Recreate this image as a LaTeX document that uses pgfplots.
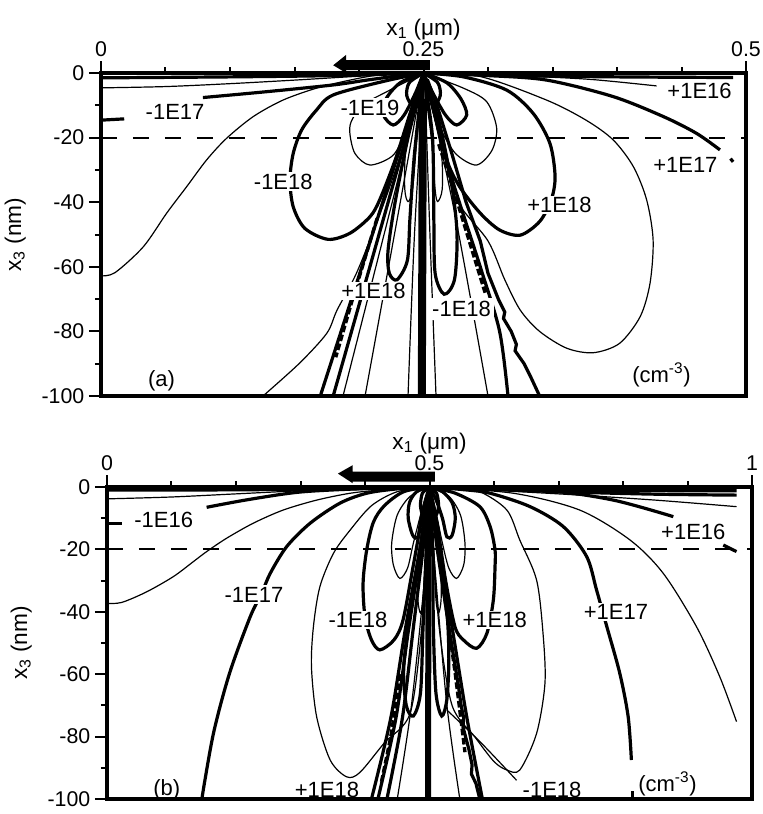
\documentclass[border=0pt]{standalone}
\usepackage{pgfplots}
\pgfplotsset{compat=1.18}
\usepackage{fontspec}
\setmainfont{Liberation Sans}
\newcommand\fs{\fontsize{16}{18}\selectfont}
\newcommand\fa{\fontsize{17}{19}\selectfont}
\newcommand\fl{\fontsize{16.5}{18}\selectfont}
\tikzset{lab/.style={font=\fl, fill=white, inner sep=1.2pt}}
\pgfplotsset{
 thn/.style={black, line width=0.9pt, smooth, tension=0.5, mark=none},
 thk/.style={black, line width=2.4pt, smooth, tension=0.5, mark=none},
 panel/.style={
  anchor=north west, scale only axis, width=483.75pt,
  ymin=-100, ymax=0, axis on top,
  ytick={-100,-80,-60,-40,-20,0}, yticklabels={-100,-80,-60,-40,-20,0},
  minor ytick={-90,-70,-50,-30,-10},
  xtick pos=right, xticklabel pos=right, ytick pos=left,
  tick align=outside, major tick length=9pt, minor tick length=4.5pt,
  tick style={black, line width=1.5pt},
  axis line style={line width=2.5pt},
  ticklabel style={font=\fs}, label style={font=\fa},
  xlabel={x\textsubscript{1} (μm)}, ylabel={x\textsubscript{3} (nm)},
  xlabel style={yshift=-6pt}, ylabel style={yshift=5pt},
  clip mode=individual,
 }
}
\begin{document}
\begin{tikzpicture}
\useasboundingbox (-75.75pt,54.75pt) rectangle (496.5pt,-555.75pt);
% ---------------- panel (a)
\begin{axis}[panel, at={(0pt,0pt)}, height=242.25pt,
  xmin=0, xmax=0.5, xtick={0,0.25,0.5}, xticklabels={0,0.25,0.5},
  minor xtick={0.05,0.1,0.15,0.2,0.3,0.35,0.4,0.45}]
\addplot[black, line width=1.5pt, dash pattern=on 12pt off 12pt] coordinates {(0,-20) (0.5,-20)};
% top lines
\addplot[thk] coordinates {(0,-1.5) (0.1,-1.2) (0.18,-0.8) (0.25,0)};
\addplot[thk] coordinates {(0.25,0) (0.32,-0.8) (0.4,-1.2) (0.49,-1.4)};
\addplot[thn] coordinates {(0,-4.6) (0.05,-4.2) (0.1,-3.3) (0.15,-2.2) (0.2,-1) (0.25,0)};
% -1E17
\addplot[thk] coordinates {(0,-14.6) (0.018,-14.2)};
\addplot[thk] coordinates {(0.079,-7.6) (0.128,-5.8) (0.18,-3.7) (0.206,-2.2) (0.23,-0.9) (0.25,0)};
% long thin left
\addplot[thn] coordinates {(0,-62.8) (0.0109,-61.8) (0.0328,-53.8) (0.0509,-43.4) (0.0664,-35.2) (0.0819,-26.9) (0.0974,-20.2) (0.118,-13.5) (0.141,-8.4) (0.167,-4.7) (0.193,-2.2) (0.216,-0.6) (0.25,0)};
% -1E18 loop
\addplot[thk] coordinates {(0.25,0) (0.22,-2.5) (0.18,-6.8) (0.167,-11.5) (0.1556,-17.6) (0.149,-24.9) (0.1465,-33.1) (0.149,-41.4) (0.158,-48.1) (0.176,-51.5) (0.193,-49.6) (0.2085,-44.5) (0.216,-39.3) (0.228,-27) (0.24,-12) (0.25,0)};
% -1E19 thin loop & mirror
\addplot[thn] coordinates {(0.25,0) (0.2215,-5.8) (0.203,-9.9) (0.194,-15) (0.193,-19) (0.197,-25) (0.2085,-28.5) (0.2266,-25.4) (0.237,-17.1) (0.245,-7) (0.25,0)};
\addplot[thn] coordinates {(0.25,0) (0.281,-4.7) (0.299,-8.9) (0.3067,-17) (0.303,-24) (0.291,-28.5) (0.275,-25) (0.263,-17) (0.255,-7) (0.25,0)};
% small thick loops
\addplot[thk] coordinates {(0.25,0) (0.232,-3) (0.221,-8) (0.219,-13) (0.2266,-16.1) (0.235,-13) (0.244,-6) (0.25,0)};
\addplot[thk] coordinates {(0.25,0) (0.268,-3) (0.279,-8) (0.2835,-13) (0.2757,-16.1) (0.267,-13) (0.257,-6) (0.25,0)};
\addplot[thk] coordinates {(0.25,0) (0.239,-3) (0.237,-7) (0.242,-10) (0.247,-5) (0.25,0)};
\addplot[thk] coordinates {(0.25,0) (0.261,-3) (0.263,-7) (0.258,-10) (0.253,-5) (0.25,0)};
% narrow thin loops
\addplot[thn] coordinates {(0.25,-1) (0.242,-10) (0.236,-25) (0.2355,-36) (0.238,-39.8) (0.2415,-36) (0.245,-20) (0.249,-5)};
\addplot[thn] coordinates {(0.251,-5) (0.256,-20) (0.259,-36) (0.261,-39.8) (0.2645,-36) (0.264,-25) (0.258,-10) (0.25,-1)};
% narrow thick loops
\addplot[thk] coordinates {(0.249,-3) (0.238,-20) (0.228,-40) (0.2225,-55) (0.2235,-62) (0.2295,-64) (0.2375,-58) (0.2395,-45) (0.243,-25) (0.249,-3)};
\addplot[thk] coordinates {(0.251,-3) (0.257,-20) (0.258,-45) (0.259,-62) (0.266,-68.5) (0.274,-64) (0.276,-50) (0.272,-35) (0.262,-15) (0.251,-3)};
% center band
\addplot[black, line width=2.5pt] coordinates {(0.25,0) (0.2495,-8)};
\addplot[black, line width=6pt] coordinates {(0.2495,-8) (0.2487,-100)};
% fan left
\addplot[thk] coordinates {(0.249,-2) (0.22,-38) (0.17,-100)};
\addplot[thk] coordinates {(0.249,-2) (0.224,-38) (0.18,-100)};
\addplot[thn] coordinates {(0.249,-2) (0.227,-38) (0.1876,-100)};
\addplot[thn] coordinates {(0.249,-2) (0.232,-40) (0.2047,-100)};
\addplot[thn] coordinates {(0.25,-2) (0.243,-50) (0.238,-100)};
\addplot[black, line width=2.5pt, dash pattern=on 5pt off 2pt] coordinates {(0.214,-45) (0.195,-70) (0.182,-88)};
\addplot[thn] coordinates {(0.1256,-100) (0.154,-89.8) (0.175,-80.6) (0.183,-73.4) (0.198,-62) (0.215,-45) (0.23,-28) (0.242,-12) (0.25,0)};
% fan right
\addplot[thn] coordinates {(0.251,-2) (0.255,-50) (0.2597,-100)};
\addplot[thn] coordinates {(0.252,-2) (0.275,-45) (0.30,-100)};
\addplot[thk] coordinates {(0.252,-2) (0.27,-30) (0.294,-60) (0.309,-80) (0.3155,-100)};
\addplot[black, line width=2.4pt] coordinates {(0.253,-2) (0.262,-12) (0.272,-25) (0.283,-40) (0.294,-52) (0.30,-62) (0.308,-70) (0.313,-74) (0.312,-76) (0.318,-80) (0.322,-84) (0.321,-86) (0.328,-90) (0.333,-94) (0.340,-100)};
\addplot[black, line width=3pt, dash pattern=on 5pt off 2pt] coordinates {(0.262,-22) (0.275,-38) (0.288,-55) (0.298,-68)};
% +1E17, +1E16
\addplot[thk] coordinates {(0.25,0) (0.30,-0.8) (0.3455,-2.2) (0.397,-7.3) (0.436,-13.5) (0.4617,-18.7) (0.4798,-23.8)};
\addplot[thk] coordinates {(0.488,-26.5) (0.49,-27.5)};
\addplot[thn] coordinates {(0.25,0) (0.33,-1) (0.38,-2) (0.4307,-4)};
% +1E18 loop
\addplot[thk] coordinates {(0.25,0) (0.281,-1.2) (0.3145,-5.3) (0.335,-12.5) (0.348,-21.8) (0.352,-32.1) (0.349,-39.3) (0.34,-46) (0.325,-50.2) (0.309,-48.6) (0.294,-43.4) (0.278,-35.2) (0.268,-26.9) (0.258,-12) (0.25,0)};
% big thin loop
\addplot[thn] coordinates {(0.25,0) (0.294,-1.1) (0.3455,-8.4) (0.376,-14.6) (0.397,-20.7) (0.4127,-29) (0.423,-39.3) (0.428,-51.7) (0.4256,-65.1) (0.418,-75.4) (0.402,-83.7) (0.3816,-86.6) (0.361,-85.2) (0.34,-80) (0.325,-73.4) (0.313,-64) (0.3,-52) (0.2757,-39.3) (0.264,-22) (0.255,-8) (0.25,0)};
% labels
\node[lab] at (axis cs:0.0574,-12) {-1E17};
\node[lab] at (axis cs:0.2085,-10.8) {-1E19};
\node[lab] at (axis cs:0.1413,-33.6) {-1E18};
\node[lab] at (axis cs:0.464,-5.7) {+1E16};
\node[lab] at (axis cs:0.453,-28.5) {+1E17};
\node[lab] at (axis cs:0.3554,-40.9) {+1E18};
\node[lab] at (axis cs:0.2112,-67.5) {+1E18};
\node[lab, inner sep=2.5pt] at (axis cs:0.2795,-73) {-1E18};
\node[font=\fl] at (axis cs:0.0469,-95.4) {(a)};
\node[lab] at (axis cs:0.4345,-93.5) {(cm\textsuperscript{-3})};
% arrow
\fill[black] (axis cs:0.18,2.4) -- (axis cs:0.19,5.6) -- (axis cs:0.19,4) -- (axis cs:0.255,4) -- (axis cs:0.255,0.9) -- (axis cs:0.19,0.9) -- (axis cs:0.19,0) -- cycle;
\end{axis}
% ---------------- panel (b)
\begin{axis}[panel, at={(4.5pt,-310.5pt)}, height=234pt,
  xmin=0, xmax=1, xtick={0,0.5,1}, xticklabels={0,0.5,1},
  minor xtick={0.1,0.2,0.3,0.4,0.6,0.7,0.8,0.9}]
\addplot[black, line width=1.5pt, dash pattern=on 12pt off 12pt] coordinates {(0,-20) (1,-20)};
% top lines
\addplot[thk] coordinates {(0,-1) (0.2,-0.9) (0.4,-0.5) (0.5,0)};
\addplot[thk] coordinates {(0.5,0) (0.7,-0.9) (0.9,-1.2) (0.976,-1.2)};
\addplot[thk] coordinates {(0.5,0) (0.7,-1.5) (0.85,-2.3) (0.976,-2.6)};
\addplot[thn] coordinates {(0,-3.8) (0.1,-3.2) (0.2,-2.2) (0.3,-1.2) (0.4,-0.5) (0.5,0)};
% -1E16
\addplot[thk] coordinates {(0,-11.6) (0.023,-11.6)};
\addplot[thk] coordinates {(0.1545,-6.5) (0.22,-4) (0.3,-1.6) (0.4,-0.5) (0.5,0)};
% long thin left
\addplot[thn] coordinates {(0,-37.3) (0.0228,-37) (0.0615,-33.6) (0.103,-28.7) (0.134,-23.9) (0.1545,-20.7) (0.1856,-16.4) (0.2268,-11.6) (0.273,-7.4) (0.325,-4.2) (0.377,-2) (0.423,-1) (0.5,0)};
% -1E17
\addplot[thk] coordinates {(0.147,-100) (0.165,-79) (0.19,-59.7) (0.222,-41.6) (0.24,-34) (0.253,-27.7) (0.2786,-19.1) (0.315,-11.6) (0.361,-5.2) (0.4026,-2) (0.45,-0.6) (0.5,0)};
% big thin loop left
\addplot[thn] coordinates {(0.5,0) (0.45,-1.5) (0.41,-6) (0.377,-13.8) (0.351,-21.3) (0.33,-32) (0.32,-44.8) (0.317,-57.6) (0.325,-73.6) (0.346,-87.5) (0.3716,-92.9) (0.392,-91.5) (0.43,-82) (0.47,-72.5) (0.488,-45) (0.497,-15) (0.5,0)};
% -1E18 thick loop
\addplot[thk] coordinates {(0.5,0) (0.46,-1.5) (0.43,-6) (0.413,-11.3) (0.4026,-20.2) (0.397,-30.9) (0.4,-41.6) (0.41,-49) (0.423,-52.2) (0.445,-49) (0.459,-42.6) (0.475,-25) (0.49,-8) (0.5,0)};
% thin loops near centre
\addplot[thn] coordinates {(0.5,0) (0.47,-3) (0.45,-9) (0.4414,-18) (0.444,-25) (0.454,-29.3) (0.466,-26) (0.475,-18) (0.49,-6) (0.5,0)};
\addplot[thn] coordinates {(0.5,0) (0.53,-3) (0.548,-9) (0.555,-18) (0.553,-25) (0.542,-29.3) (0.53,-26) (0.52,-18) (0.508,-6) (0.5,0)};
% thick small loops
\addplot[thk] coordinates {(0.5,0) (0.48,-1.5) (0.469,-5) (0.467,-10) (0.474,-15.5) (0.482,-16) (0.487,-10) (0.494,-4) (0.5,0)};
\addplot[thk] coordinates {(0.5,0) (0.52,-1.5) (0.535,-5) (0.54,-10) (0.535,-15.5) (0.527,-16) (0.52,-10) (0.51,-4) (0.5,0)};
\addplot[thk] coordinates {(0.5,0) (0.489,-2) (0.486,-6) (0.49,-9) (0.496,-5) (0.5,0)};
\addplot[thk] coordinates {(0.5,0) (0.511,-2) (0.514,-6) (0.51,-9) (0.504,-5) (0.5,0)};
% narrow thin loops
\addplot[thn] coordinates {(0.499,-1) (0.49,-10) (0.483,-25) (0.482,-36) (0.486,-40.4) (0.49,-36) (0.494,-20) (0.498,-5)};
\addplot[thn] coordinates {(0.502,-5) (0.506,-20) (0.51,-36) (0.514,-40.4) (0.518,-36) (0.517,-25) (0.51,-10) (0.501,-1)};
% narrow thick loops
\addplot[thk] coordinates {(0.499,-2) (0.485,-20) (0.47,-40) (0.46,-58) (0.464,-70) (0.475,-73.4) (0.486,-66) (0.49,-45) (0.495,-20) (0.499,-2)};
\addplot[thk] coordinates {(0.501,-2) (0.505,-20) (0.506,-45) (0.51,-66) (0.519,-73.4) (0.527,-68) (0.53,-55) (0.527,-40) (0.515,-20) (0.501,-2)};
% centre band
\addplot[black, line width=2.5pt] coordinates {(0.5,0) (0.4985,-10)};
\addplot[black, line width=4.5pt] coordinates {(0.4985,-10) (0.4977,-100)};
% fan left
\addplot[thk] coordinates {(0.499,-2) (0.485,-20) (0.463,-45) (0.44,-74) (0.41,-100)};
\addplot[thk] coordinates {(0.499,-2) (0.487,-20) (0.468,-45) (0.448,-74) (0.42,-100)};
\addplot[thk] coordinates {(0.5,-2) (0.49,-20) (0.475,-45) (0.458,-74) (0.434,-100)};
\addplot[thn] coordinates {(0.5,-2) (0.492,-30) (0.472,-70) (0.45,-100)};
\addplot[black, line width=2.5pt, dash pattern=on 5pt off 2pt] coordinates {(0.455,-60) (0.44,-80) (0.425,-95)};
% fan right
\addplot[black, line width=2.4pt] coordinates {(0.501,-2) (0.512,-20) (0.53,-45) (0.545,-64) (0.549,-70) (0.553,-74) (0.552,-77) (0.561,-84) (0.566,-89) (0.565,-92) (0.572,-95) (0.578,-100)};
\addplot[thk] coordinates {(0.501,-2) (0.514,-20) (0.535,-45) (0.558,-74) (0.582,-100)};
\addplot[thn] coordinates {(0.5,-2) (0.51,-30) (0.527,-70) (0.547,-100)};
\addplot[black, line width=2.5pt, dash pattern=on 5pt off 2pt] coordinates {(0.52,-30) (0.54,-60) (0.555,-85)};
% +1E18 thick loop
\addplot[thk] coordinates {(0.5,0) (0.54,-2) (0.578,-6.3) (0.594,-12.7) (0.6016,-20.2) (0.6016,-25.5) (0.599,-36.2) (0.589,-46.9) (0.573,-51.7) (0.5525,-49) (0.5395,-44.8) (0.525,-30) (0.512,-12) (0.5,0)};
% big thin loop right
\addplot[thn] coordinates {(0.5,0) (0.54,-0.5) (0.578,-1.5) (0.62,-7.4) (0.640,-17) (0.666,-29.8) (0.676,-46.9) (0.679,-62.9) (0.666,-79) (0.640,-90.7) (0.62,-90.7) (0.6,-88) (0.57,-80) (0.535,-70) (0.515,-45) (0.505,-15) (0.5,0)};
\addplot[thn] coordinates {(0.527,-71.5) (0.58,-82) (0.635,-94)};
% +1E17
\addplot[thk] coordinates {(0.5,0) (0.55,-0.8) (0.594,-2) (0.656,-6.3) (0.7075,-12.7) (0.7437,-22.3) (0.759,-33) (0.775,-44.8) (0.795,-59.7) (0.808,-73.6) (0.813,-87.5)};
\addplot[thk] coordinates {(0.815,-97.5) (0.815,-100)};
% thin right
\addplot[thn] coordinates {(0.5,0) (0.63,-2) (0.733,-7.4) (0.811,-17) (0.8625,-27.7) (0.914,-44.8) (0.950,-60.8) (0.976,-75.2)};
% +1E16
\addplot[thk] coordinates {(0.5,0) (0.6817,-1.2) (0.785,-4.2) (0.878,-9.5)};
\addplot[thk] coordinates {(0.9555,-18.6) (0.976,-20.7)};
\addplot[thn] coordinates {(0.5,0) (0.7,-2.2) (0.85,-4.2) (0.976,-6.3)};
% labels
\node[lab] at (axis cs:0.088,-10.7) {-1E16};
\node[lab] at (axis cs:0.2278,-34.5) {-1E17};
\node[lab] at (axis cs:0.389,-42.6) {-1E18};
\node[lab] at (axis cs:0.601,-42.6) {+1E18};
\node[lab] at (axis cs:0.789,-40) {+1E17};
\node[lab] at (axis cs:0.909,-14.3) {+1E16};
\node[lab] at (axis cs:0.3411,-97.2) {+1E18};
\node[lab] at (axis cs:0.69,-97.2) {-1E18};
\node[font=\fl] at (axis cs:0.0926,-97.2) {(b)};
\node[lab] at (axis cs:0.869,-95.2) {(cm\textsuperscript{-3})};
% arrow
\fill[black] (axis cs:0.358,4.3) -- (axis cs:0.381,7) -- (axis cs:0.381,4.9) -- (axis cs:0.5085,4.9) -- (axis cs:0.5085,1.7) -- (axis cs:0.381,1.7) -- (axis cs:0.381,1.2) -- cycle;
\end{axis}
\end{tikzpicture}
\end{document}
